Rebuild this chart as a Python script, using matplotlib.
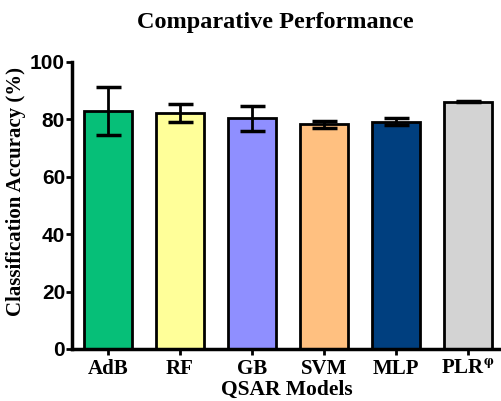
import matplotlib
matplotlib.use("Agg")
import matplotlib.pyplot as plt
import numpy as np

plt.rcParams["mathtext.fontset"] = "stix"

# Data
models = ["AdB", "RF", "GB", "SVM", "MLP", "PLR$^{\\mathbf{\\varphi}}$"]
accuracy = [83.0, 82.3, 80.4, 78.3, 79.2, 86.2]
errors = [8.4, 3.2, 4.4, 1.3, 1.2, 0.3]
colors = ["#06bf78", "#ffff99", "#8f8fff", "#ffc080", "#003f7f", "#d3d3d3"]

serif = "Liberation Serif"
sans = "Liberation Sans"

fig = plt.figure(figsize=(5.02, 4.01), dpi=100)
ax = fig.add_axes([0.1434, 0.1297, 0.8566, 0.7157])

x = np.arange(len(models))
ax.bar(x, accuracy, width=0.66, color=colors, edgecolor="black", linewidth=2, zorder=2)
ax.errorbar(x, accuracy, yerr=errors, fmt="none", ecolor="black", elinewidth=2,
            capsize=9, capthick=2.5, zorder=3)

ax.set_xlim(-0.5, 5.47)
ax.set_ylim(0, 100)
ax.set_yticks([0, 20, 40, 60, 80, 100])
ax.set_xticks(x)
ax.set_xticklabels(models, fontfamily=serif, fontweight="bold", fontsize=15)
for lbl in ax.get_yticklabels():
    lbl.set_fontfamily(sans)
    lbl.set_fontweight("bold")
    lbl.set_fontsize(15)

ax.tick_params(axis="y", direction="out", length=4, width=2, pad=1)
ax.tick_params(axis="x", direction="out", length=4, width=2, pad=3)

for s in ["top", "right"]:
    ax.spines[s].set_visible(False)
for s in ["left", "bottom"]:
    ax.spines[s].set_linewidth(2.5)

ax.set_ylabel("Classification Accuracy (%)", fontfamily=serif, fontweight="bold",
              fontsize=15)
ax.yaxis.set_label_coords(-0.108, 0.55)
ax.set_xlabel("QSAR Models", fontfamily=serif, fontweight="bold", fontsize=15.5, labelpad=1)
fig.text(0.548, 0.945, "Comparative Performance", ha="center", va="center",
         fontfamily=serif, fontweight="bold", fontsize=17.5)

fig.savefig("out.png", dpi=100)
